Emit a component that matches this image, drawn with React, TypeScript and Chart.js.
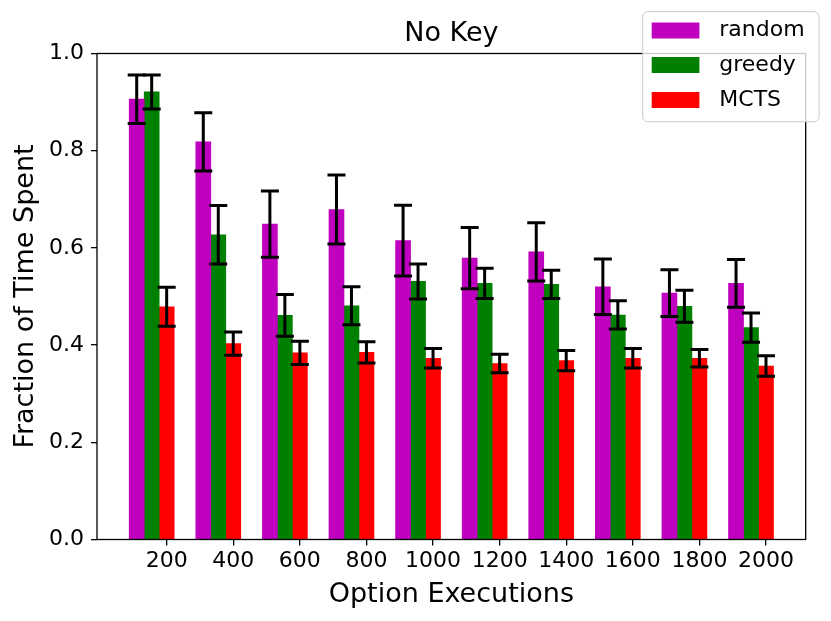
import React, { useEffect, useRef } from "react";
import { Chart, registerables } from "chart.js";

Chart.register(...registerables);

// ---- data ----
const categories = [200, 400, 600, 800, 1000, 1200, 1400, 1600, 1800, 2000];
const randomValues = [0.906, 0.818, 0.649, 0.679, 0.615, 0.579, 0.592, 0.52, 0.507, 0.527];
const randomErr = [0.05, 0.06, 0.068, 0.071, 0.073, 0.063, 0.06, 0.057, 0.048, 0.049];
const greedyValues = [0.921, 0.627, 0.461, 0.481, 0.531, 0.527, 0.525, 0.462, 0.48, 0.436];
const greedyErr = [0.035, 0.06, 0.043, 0.039, 0.036, 0.031, 0.029, 0.029, 0.033, 0.03];
const mctsValues = [0.479, 0.403, 0.384, 0.385, 0.373, 0.362, 0.368, 0.373, 0.373, 0.357];
const mctsErr = [0.04, 0.024, 0.024, 0.022, 0.02, 0.019, 0.021, 0.02, 0.018, 0.021];
const seriesNames = ["random", "greedy", "MCTS"];
const seriesColors = ["#bf00bf", "#008000", "#ff0000"];
const titleText = "No Key";
const xLabel = "Option Executions";
const yLabel = "Fraction of Time Spent";

const BAR_W = 45; // bar width in x data units
const offsets = [-2 * BAR_W, -BAR_W, 0];
const FONT = "'DejaVu Sans', sans-serif";

export default function App() {
  const ref = useRef<HTMLCanvasElement>(null);

  useEffect(() => {
    if (!ref.current) return;
    const values = [randomValues, greedyValues, mctsValues];
    const errors = [randomErr, greedyErr, mctsErr];

    const datasets: any[] = seriesNames.map((name, s) => ({
      label: name,
      data: categories.map((c, i) => ({ x: c + offsets[s], y: values[s][i] })),
      backgroundColor: seriesColors[s],
      borderWidth: 0,
      barThickness: 15,
      grouped: false,
      errors: errors[s],
    }));

    const errorBars = {
      id: "errorBars",
      afterDatasetsDraw(chart: any) {
        const ctx = chart.ctx;
        const ys = chart.scales.y;
        ctx.save();
        ctx.strokeStyle = "#000";
        ctx.lineWidth = 3;
        chart.data.datasets.forEach((ds: any, di: number) => {
          const meta = chart.getDatasetMeta(di);
          meta.data.forEach((bar: any, i: number) => {
            const v = ds.data[i].y;
            const e = ds.errors[i];
            const x = bar.x;
            const yt = ys.getPixelForValue(v + e);
            const yb = ys.getPixelForValue(v - e);
            ctx.beginPath();
            ctx.moveTo(x, yt);
            ctx.lineTo(x, yb);
            ctx.moveTo(x - 9, yt);
            ctx.lineTo(x + 9, yt);
            ctx.moveTo(x - 9, yb);
            ctx.lineTo(x + 9, yb);
            ctx.stroke();
          });
        });
        ctx.restore();
      },
    };

    const decor = {
      id: "decor",
      afterDraw(chart: any) {
        const ctx = chart.ctx;
        const a = chart.chartArea;
        ctx.save();
        // spines
        ctx.strokeStyle = "#000";
        ctx.lineWidth = 1.3;
        ctx.strokeRect(a.left, a.top, a.right - a.left, a.bottom - a.top);
        // title
        const cx = (a.left + a.right) / 2;
        ctx.fillStyle = "#000";
        ctx.font = `27px ${FONT}`;
        ctx.textAlign = "center";
        ctx.textBaseline = "alphabetic";
        ctx.fillText(titleText, cx, 40.7);
        // x label
        ctx.fillText(xLabel, cx, 601.7);
        // y label
        ctx.save();
        ctx.translate(33.3, (a.top + a.bottom) / 2);
        ctx.rotate(-Math.PI / 2);
        ctx.fillText(yLabel, 0, 0);
        ctx.restore();
        // legend
        const lx = 642.7, ly = 11.7, lw = 176.3, lh = 110;
        ctx.beginPath();
        (ctx as any).roundRect(lx, ly, lw, lh, 5);
        ctx.fillStyle = "rgba(255,255,255,0.8)";
        ctx.fill();
        ctx.strokeStyle = "#cccccc";
        ctx.lineWidth = 1;
        ctx.stroke();
        const rows = [30.5, 65, 100];
        ctx.font = `22px ${FONT}`;
        ctx.textAlign = "left";
        ctx.textBaseline = "middle";
        seriesNames.forEach((name, s) => {
          ctx.fillStyle = seriesColors[s];
          ctx.fillRect(651.7, rows[s] - 8, 47.7, 16);
          ctx.fillStyle = "#000";
          ctx.fillText(name, 719.3, rows[s]);
        });
        ctx.restore();
      },
    };

    const chart = new Chart(ref.current, {
      type: "bar",
      data: { datasets },
      options: {
        animation: false,
        responsive: false,
        events: [],
        layout: { padding: { left: 0, top: 53.5, right: 25.3, bottom: 0 } },
        plugins: { legend: { display: false }, title: { display: false }, tooltip: { enabled: false } },
        scales: {
          x: {
            type: "linear",
            offset: false,
            min: -9.25,
            max: 2119.25,
            afterBuildTicks: (axis: any) => {
              axis.ticks = categories.map((v) => ({ value: v }));
            },
            afterFit: (scale: any) => {
              scale.height = 81.5;
            },
            grid: { offset: false, drawOnChartArea: false, drawTicks: true, tickLength: 6, color: "#000", lineWidth: 1.3 },
            border: { display: false },
            ticks: {
              color: "#000",
              font: { family: FONT, size: 22 },
              padding: 3,
              maxRotation: 0,
              autoSkip: false,
              callback: (v: any) => String(v),
            },
          },
          y: {
            type: "linear",
            min: 0,
            max: 1,
            afterFit: (scale: any) => {
              scale.width = 97;
            },
            grid: { drawOnChartArea: false, drawTicks: true, tickLength: 6, color: "#000", lineWidth: 1.3 },
            border: { display: false },
            ticks: {
              stepSize: 0.2,
              color: "#000",
              font: { family: FONT, size: 22 },
              padding: 7,
              callback: (v: any) => Number(v).toFixed(1),
            },
          },
        },
      } as any,
      plugins: [errorBars, decor],
    });
    return () => chart.destroy();
  }, []);

  return (
    <div style={{ position: "absolute", left: 0, top: 0, width: 831, height: 621, background: "#fff" }}>
      <canvas ref={ref} width={831} height={621} style={{ width: 831, height: 621 }} />
    </div>
  );
}
